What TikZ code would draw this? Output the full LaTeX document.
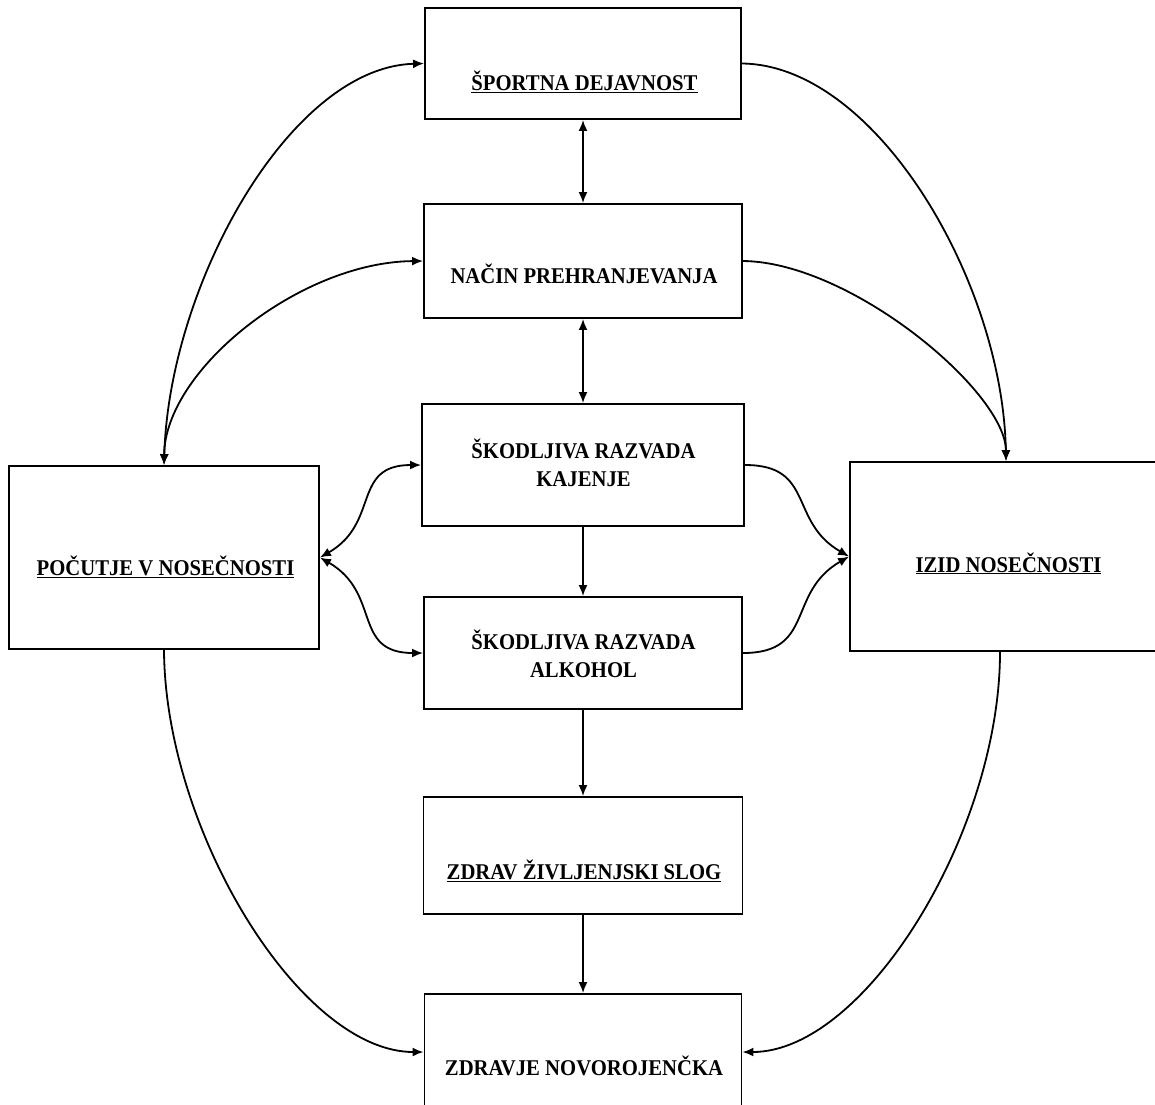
\documentclass[tikz,border=0pt]{standalone}
\usepackage{fontspec}
\setmainfont[FakeStretch=0.92]{Liberation Serif}
\usetikzlibrary{arrows.meta, positioning, calc}
\tikzset{
  okvir/.style 2 args={draw, line width=1.9pt, minimum width=#1, minimum height=#2, inner sep=0pt},
  napis/.style={font=\bfseries\fontsize{22.5}{27.5}\selectfont, align=center, anchor=base, inner sep=0pt},
  pot/.style={line width=1.8pt}
}

\begin{document}
\begin{tikzpicture}[x=1pt, y=-1pt, >={Latex[length=11pt,width=9pt]}]
  \clip (0,0) rectangle (1155,1104);
  % okvirji
  \node[okvir={316pt}{111pt}] (sd) at (583,63.5) {};
  \node[okvir={318pt}{114pt}] (np) at (583,261) {};
  \node[okvir={322pt}{122pt}] (srk) at (583,465) {};
  \node[okvir={318pt}{112pt}] (sra) at (583,653) {};
  \node[okvir={319pt}{117pt}] (zzs) at (583,855.5) {};
  \node[okvir={317pt}{116pt}] (zn) at (583,1052) {};
  \node[okvir={310pt}{183pt}] (ps) at (164,557.5) {};
  \node[okvir={312pt}{189pt}] (izid) at (1006,556.5) {};
  % napisi
  \node[napis] (sd-t) at (584.5,90) {\underline{ŠPORTNA DEJAVNOST}};
  \node[napis] (np-t) at (584,283) {NAČIN PREHRANJEVANJA};
  \node[napis] (srk-t) at (583.5,486) {ŠKODLJIVA RAZVADA\\KAJENJE};
  \node[napis] (sra-t) at (583.5,677) {ŠKODLJIVA RAZVADA\\ALKOHOL};
  \node[napis] (zzs-t) at (584,879) {\underline{ZDRAV ŽIVLJENJSKI SLOG}};
  \node[napis] (zn-t) at (584,1075) {ZDRAVJE NOVOROJENČKA};
  \node[napis] (ps-t) at (165.5,575) {\underline{POČUTJE V NOSEČNOSTI}};
  \node[napis] (izid-t) at (1008.5,572) {\underline{IZID NOSEČNOSTI}};
  % srednja veriga
  \draw[pot,<->] (sd.south) -- (np.north);
  \draw[pot,<->] (np.south) -- (srk.north);
  \draw[pot,->] (srk.south) -- (sra.north);
  \draw[pot,->] (sra.south) -- (zzs.north);
  \draw[pot,->] (zzs.south) -- (zn.north);
  % loki levo in desno
  \draw[pot,<->] (sd.west) .. controls (290,67) and (169,285) .. (ps.north);
  \draw[pot,<->] (np.west) .. controls (300,262) and (165,370) .. (ps.north);
  \draw[pot,->] (sd.east) .. controls (876,65) and (1003,282) .. (izid.north);
  \draw[pot,->] (np.east) .. controls (851,262) and (1006,392) .. (izid.north);
  \draw[pot,->] (ps.south) .. controls (165,830) and (300,1052) .. (zn.west);
  \draw[pot,->] ($(izid.south)+(-6,0)$) .. controls (1000,832) and (865,1052) .. (zn.east);
  % razvade
  \draw[pot,<->] (ps.east) to[out=30,in=180,looseness=1.3] (srk.west);
  \draw[pot,<->] (ps.east) to[out=-30,in=180,looseness=1.3] (sra.west);
  \draw[pot,->] (srk.east) to[out=0,in=150,looseness=1.3] (izid.west);
  \draw[pot,->] (sra.east) to[out=0,in=-150,looseness=1.3] (izid.west);
\end{tikzpicture}
\end{document}
